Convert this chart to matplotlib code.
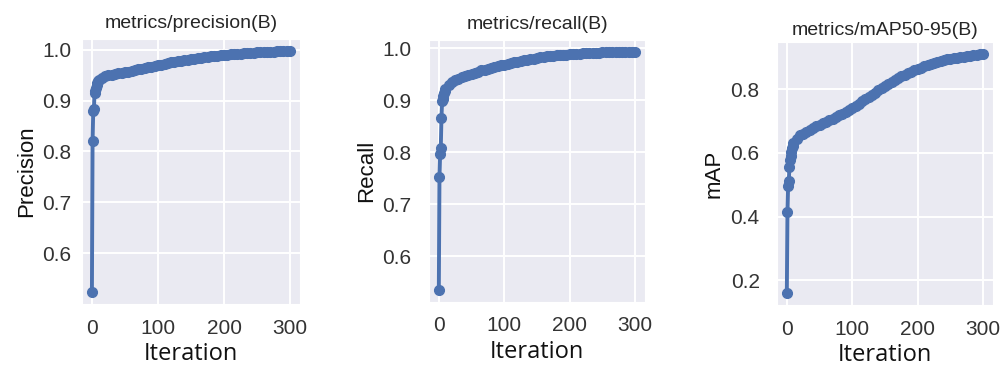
import matplotlib
matplotlib.use("Agg")
import matplotlib.pyplot as plt
import seaborn as sns

# === Data ===
iterations = list(range(0, 10)) + list(range(10, 301, 5))

precision = [
    0.524, 0.820, 0.879, 0.884, 0.915, 0.918, 0.925, 0.930, 0.934, 0.938,
    0.941, 0.945, 0.948, 0.950, 0.951, 0.953, 0.954, 0.955, 0.956, 0.957,
    0.959, 0.960, 0.961, 0.962, 0.963, 0.965, 0.966, 0.967, 0.969, 0.970,
    0.972, 0.973, 0.975, 0.976, 0.977, 0.978, 0.979, 0.980, 0.981, 0.982,
    0.983, 0.984, 0.985, 0.986, 0.987, 0.987, 0.988, 0.989, 0.989, 0.990,
    0.991, 0.991, 0.992, 0.992, 0.993, 0.993, 0.994, 0.994, 0.995, 0.995,
    0.995, 0.996, 0.996, 0.996, 0.997, 0.997, 0.997, 0.997, 0.997,
]

recall = [
    0.535, 0.753, 0.796, 0.808, 0.865, 0.898, 0.902, 0.908, 0.913, 0.917,
    0.921, 0.929, 0.935, 0.938, 0.941, 0.944, 0.947, 0.949, 0.951, 0.953,
    0.955, 0.957, 0.958, 0.960, 0.961, 0.963, 0.965, 0.967, 0.968, 0.970,
    0.971, 0.973, 0.974, 0.975, 0.977, 0.978, 0.979, 0.980, 0.981, 0.982,
    0.983, 0.984, 0.984, 0.985, 0.986, 0.986, 0.987, 0.987, 0.988, 0.988,
    0.989, 0.989, 0.990, 0.990, 0.990, 0.991, 0.991, 0.991, 0.992, 0.992,
    0.992, 0.992, 0.993, 0.993, 0.993, 0.993, 0.993, 0.993, 0.993,
]

map50_95 = [
    0.159, 0.415, 0.497, 0.511, 0.556, 0.578, 0.590, 0.603, 0.614, 0.622,
    0.630, 0.645, 0.655, 0.661, 0.667, 0.673, 0.679, 0.684, 0.689, 0.694,
    0.698, 0.703, 0.708, 0.713, 0.718, 0.723, 0.729, 0.735, 0.742, 0.748,
    0.755, 0.762, 0.769, 0.776, 0.783, 0.790, 0.798, 0.805, 0.812, 0.818,
    0.824, 0.830, 0.836, 0.841, 0.846, 0.851, 0.856, 0.860, 0.864, 0.868,
    0.872, 0.876, 0.880, 0.883, 0.886, 0.889, 0.892, 0.894, 0.896, 0.898,
    0.900, 0.902, 0.903, 0.905, 0.906, 0.908, 0.909, 0.910, 0.911,
]

titles = ["metrics/precision(B)", "metrics/recall(B)", "metrics/mAP50-95(B)"]
ylabels = ["Precision", "Recall", "mAP"]
series = [precision, recall, map50_95]
yticks = [[0.6, 0.7, 0.8, 0.9, 1.0], [0.6, 0.7, 0.8, 0.9, 1.0], [0.2, 0.4, 0.6, 0.8]]

# === Style ===
sns.set_style("darkgrid")
plt.rcParams["font.family"] = ["Liberation Sans", "DejaVu Sans"]

fig = plt.figure(figsize=(10, 3.69), dpi=100)

# axes boxes in figure fractions [left, bottom, width, height]
boxes = [
    [0.082, 0.176, 0.218, 0.718],
    [0.429, 0.182, 0.216, 0.710],
    [0.777, 0.173, 0.216, 0.713],
]
ypads = [4, 9, 9]
title_pads = [8, 8, 5]

for i in range(3):
    ax = fig.add_axes(boxes[i])
    ax.plot(iterations, series[i], color="#4C72B0", marker="o",
            markersize=7, linewidth=2.8)
    ax.set_title(titles[i], fontsize=14, color="#262626", pad=title_pads[i])
    ax.set_ylabel(ylabels[i], fontsize=16, color="#111111", labelpad=4)
    ax.set_xlabel("Iteration", fontsize=17, color="#111111",
                  family=["Open Sans", "DejaVu Sans"], labelpad=3)
    ax.set_xticks([0, 100, 200, 300])
    ax.set_yticks(yticks[i])
    ax.tick_params(axis="both", labelsize=15, colors="#333333")
    ax.tick_params(axis="y", pad=ypads[i])
    ax.tick_params(axis="x", pad=7)
    ax.grid(color="white", linewidth=1.4)

fig.savefig("out.png", dpi=100)
